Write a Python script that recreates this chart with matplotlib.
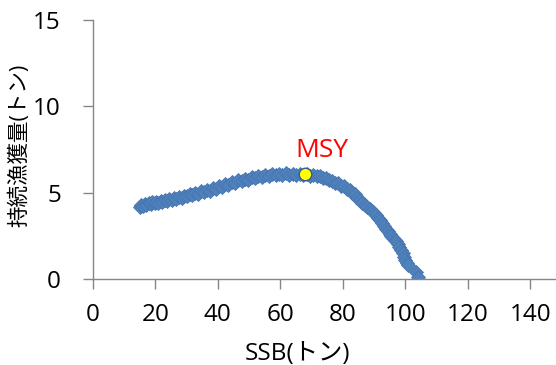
import matplotlib
matplotlib.use('Agg')
import matplotlib.pyplot as plt

plt.rcParams['font.family'] = ['Open Sans', 'Noto Sans CJK JP', 'DejaVu Sans']

# SSB (トン) と 持続漁獲量 (トン)
ssb = [15.0, 15.6, 16.1, 16.7, 17.2, 17.9, 18.5, 19.1, 19.8, 20.4, 21.0, 21.7, 22.3, 23.0,
       23.8, 24.5, 25.3, 26.1, 26.8, 27.6, 28.5, 29.3, 30.2, 31.0, 31.9, 32.8, 33.7, 34.6,
       35.6, 36.5, 37.5, 38.4, 39.4, 40.3, 41.3, 42.4, 43.4, 44.4, 45.5, 46.5, 47.6, 48.6,
       49.7, 50.8, 51.9, 53.0, 54.1, 55.2, 56.3, 57.4, 58.5, 59.6, 60.7, 61.8, 62.9, 64.0,
       65.1, 66.2, 67.3, 68.4, 69.5, 70.6, 71.6, 72.7, 73.7, 74.7, 75.7, 76.7, 77.6, 78.6,
       79.5, 80.4, 81.3, 82.2, 83.0, 83.9, 84.7, 85.5, 86.3, 87.1, 87.8, 88.6, 89.3, 90.0,
       90.7, 91.3, 92.0, 92.6, 93.2, 93.8, 94.4, 95.0, 95.5, 96.1, 96.6, 97.1, 97.6, 98.1,
       98.6, 99.1, 99.5, 100.0, 100.4, 100.8, 103.5, 104.0]
catch = [4.15, 4.28, 4.22, 4.35, 4.30, 4.40, 4.33, 4.45, 4.38, 4.47, 4.42, 4.52, 4.46, 4.55,
         4.50, 4.62, 4.56, 4.68, 4.63, 4.74, 4.70, 4.82, 4.78, 4.90, 4.86, 4.98, 4.95, 5.08,
         5.03, 5.15, 5.12, 5.25, 5.20, 5.36, 5.32, 5.48, 5.45, 5.62, 5.58, 5.72, 5.68, 5.80,
         5.76, 5.88, 5.84, 5.95, 5.90, 6.02, 5.97, 6.06, 6.01, 6.10, 6.04, 6.12, 6.05, 6.10,
         6.03, 6.09, 6.02, 6.07, 5.98, 6.03, 5.94, 5.97, 5.85, 5.86, 5.72, 5.70, 5.58, 5.55,
         5.40, 5.36, 5.22, 5.14, 4.98, 4.90, 4.72, 4.60, 4.42, 4.30, 4.15, 4.05, 3.92, 3.80,
         3.68, 3.55, 3.42, 3.22, 3.05, 2.88, 2.78, 2.62, 2.50, 2.40, 2.28, 2.18, 2.02, 1.85,
         1.68, 1.48, 1.30, 1.12, 0.95, 0.80, 0.42, 0.12]
msy_ssb = [68.0]
msy_catch = [6.1]

fig = plt.figure(figsize=(5.56, 3.65), dpi=100)
ax = fig.add_axes([92.7 / 556, 86 / 365, 1 - 92.7 / 556, 259 / 365])

ax.plot(ssb, catch, linestyle='none', marker='D', markersize=7.5,
        color='#4F81BD', markeredgecolor='#4776B0', markeredgewidth=0.6)
ax.plot(msy_ssb, msy_catch, linestyle='none', marker='o', markersize=9,
        markerfacecolor='#FFFF00', markeredgecolor='#385D8A', markeredgewidth=1.0)
ax.text(73.4, 7.45, 'MSY', color='#FF0000', fontsize=19, ha='center', va='center')

ax.set_xlim(0, 148.2)
ax.set_ylim(0, 15)
ax.set_xticks(range(0, 141, 20))
ax.set_yticks([0, 5, 10, 15])

for s in ['top', 'right']:
    ax.spines[s].set_visible(False)
for s in ['left', 'bottom']:
    ax.spines[s].set_color('#868686')
    ax.spines[s].set_linewidth(1.0)
ax.tick_params(axis='both', direction='out', length=7, width=1.0, color='#868686',
               labelsize=17.5, labelcolor='black')
ax.tick_params(axis='y', pad=16)
ax.tick_params(axis='x', pad=10)

ax.set_xlabel('SSB(トン)', fontsize=17.5)
ax.xaxis.set_label_coords(0.441, -0.245)
ax.set_ylabel('持続漁獲量(トン)', fontsize=15.5)
ax.yaxis.set_label_coords(-0.135, 0.517)

fig.savefig('out.png', dpi=100)
